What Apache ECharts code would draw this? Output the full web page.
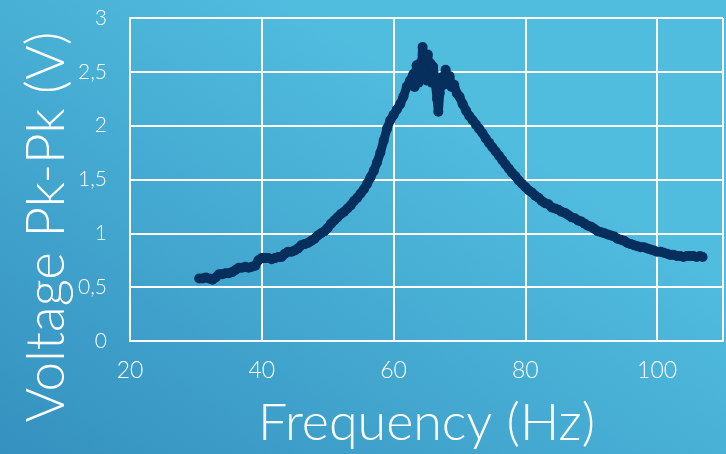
<!DOCTYPE html>
<html>
<head>
<meta charset="utf-8">
<script src="https://cdn.jsdelivr.net/npm/echarts@6/dist/echarts.min.js"></script>
<style>html,body{margin:0;padding:0;}#c{width:726px;height:454px;}</style>
</head>
<body>
<div id="c"></div>
<script>
var freq = [30.5,31.0,31.5,32.0,32.5,33.0,33.5,34.0,34.5,35.0,35.5,36.0,36.5,37.0,37.5,38.0,38.5,39.0,39.5,40.0,40.5,41.0,41.5,42.0,42.5,43.0,43.5,44.0,44.5,45.0,45.5,46.0,46.5,47.0,47.5,48.0,48.5,49.0,49.5,50.0,50.5,51.0,51.5,52.0,52.5,53.0,53.5,54.0,54.5,55.0,55.5,56.0,56.5,57.0,57.5,58.0,58.5,59.0,59.5,60.0,60.5,61.0,61.5,62.0,62.5,63.0,63.2,63.5,63.8,64.0,64.2,64.4,64.6,64.8,65.0,65.2,65.4,65.6,65.8,66.0,66.3,66.6,66.8,67.0,67.3,67.6,67.9,68.2,68.5,68.8,69.2,69.6,70.0,70.5,71.0,71.5,72.0,72.5,73.0,73.5,74.0,74.5,75.0,75.5,76.0,76.5,77.0,77.5,78.0,78.5,79.0,79.5,80.0,80.5,81.0,81.5,82.0,82.5,83.0,83.5,84.0,84.5,85.0,85.5,86.0,86.5,87.0,87.5,88.0,88.5,89.0,89.5,90.0,90.5,91.0,91.5,92.0,92.5,93.0,93.5,94.0,94.5,95.0,95.5,96.0,96.5,97.0,97.5,98.0,98.5,99.0,99.5,100.0,100.5,101.0,101.5,102.0,102.5,103.0,103.5,104.0,104.5,105.0,105.5,106.0,106.5,106.9];
var voltage = [0.58,0.58,0.59,0.58,0.57,0.59,0.62,0.62,0.63,0.63,0.64,0.66,0.68,0.68,0.69,0.68,0.69,0.70,0.75,0.77,0.77,0.77,0.76,0.77,0.78,0.78,0.81,0.83,0.83,0.84,0.86,0.89,0.90,0.91,0.93,0.95,0.98,1.00,1.02,1.05,1.09,1.12,1.15,1.18,1.20,1.23,1.26,1.30,1.33,1.37,1.41,1.46,1.52,1.58,1.66,1.75,1.86,1.97,2.05,2.10,2.15,2.20,2.27,2.36,2.42,2.48,2.36,2.56,2.40,2.58,2.45,2.73,2.50,2.62,2.42,2.66,2.45,2.58,2.40,2.55,2.42,2.25,2.13,2.30,2.45,2.38,2.52,2.42,2.46,2.36,2.38,2.30,2.27,2.20,2.14,2.09,2.05,2.01,1.97,1.93,1.88,1.84,1.80,1.76,1.72,1.68,1.64,1.60,1.56,1.53,1.49,1.46,1.43,1.40,1.38,1.35,1.33,1.30,1.28,1.27,1.24,1.23,1.22,1.20,1.19,1.17,1.15,1.14,1.12,1.11,1.09,1.07,1.06,1.04,1.02,1.01,1.00,0.99,0.98,0.97,0.95,0.94,0.93,0.91,0.90,0.89,0.88,0.87,0.87,0.86,0.85,0.84,0.83,0.83,0.82,0.81,0.80,0.80,0.79,0.79,0.78,0.79,0.79,0.79,0.78,0.79,0.78];
var xTicks = [20, 40, 60, 80, 100];
var yTicks = [0, 0.5, 1, 1.5, 2, 2.5, 3];
var xTitle = 'Frequency (Hz)';
var yTitle = 'Voltage Pk-Pk (V)';

var pts = freq.map(function (f, i) { return [f, voltage[i]]; });
var chart = echarts.init(document.getElementById('c'));
var FONT = 'Lato';
chart.setOption({
  animation: false,
  backgroundColor: new echarts.graphic.LinearGradient(0, 1, 0.4, 0, [
    { offset: 0, color: '#3591bf' },
    { offset: 1, color: '#50bcde' }
  ]),
  grid: { left: 130, right: -7, top: 18, bottom: 111, containLabel: false },
  graphic: [{
    type: 'text', left: 20, top: 'middle', rotation: Math.PI / 2,
    x: 47, y: 228,
    style: { text: yTitle, fill: '#ffffff', font: '300 53px Lato', textAlign: 'center', textVerticalAlign: 'middle' }
  }],
  xAxis: {
    type: 'value', min: 20, max: 110, interval: 20,
    name: xTitle, nameLocation: 'middle', nameGap: 56,
    nameTextStyle: { color: '#ffffff', fontSize: 52, fontFamily: FONT, fontWeight: 300 },
    axisLine: { show: true, lineStyle: { color: '#ffffff', width: 2 } },
    axisTick: { show: false },
    splitLine: { show: true, lineStyle: { color: '#ffffff', width: 2 } },
    axisLabel: { color: '#ffffff', fontSize: 23, fontFamily: FONT, fontWeight: 300, margin: 18,
      formatter: function (v) { return xTicks.indexOf(v) >= 0 ? String(v) : ''; } }
  },
  yAxis: {
    type: 'value', min: 0, max: 3, interval: 0.5,
    axisLine: { show: true, lineStyle: { color: '#ffffff', width: 2 } },
    axisTick: { show: false },
    splitLine: { show: true, lineStyle: { color: '#ffffff', width: 2 } },
    axisLabel: { color: '#ffffff', fontSize: 21, fontFamily: FONT, fontWeight: 300, margin: 23,
      formatter: function (v) { return yTicks.indexOf(v) >= 0 ? String(v).replace('.', ',') : ''; } }
  },
  series: [{
    type: 'line', data: pts,
    symbol: 'circle', symbolSize: 10, showSymbol: true,
    lineStyle: { color: '#062f5d', width: 9 },
    itemStyle: { color: '#062f5d' }
  }]
});
</script>
</body>
</html>
